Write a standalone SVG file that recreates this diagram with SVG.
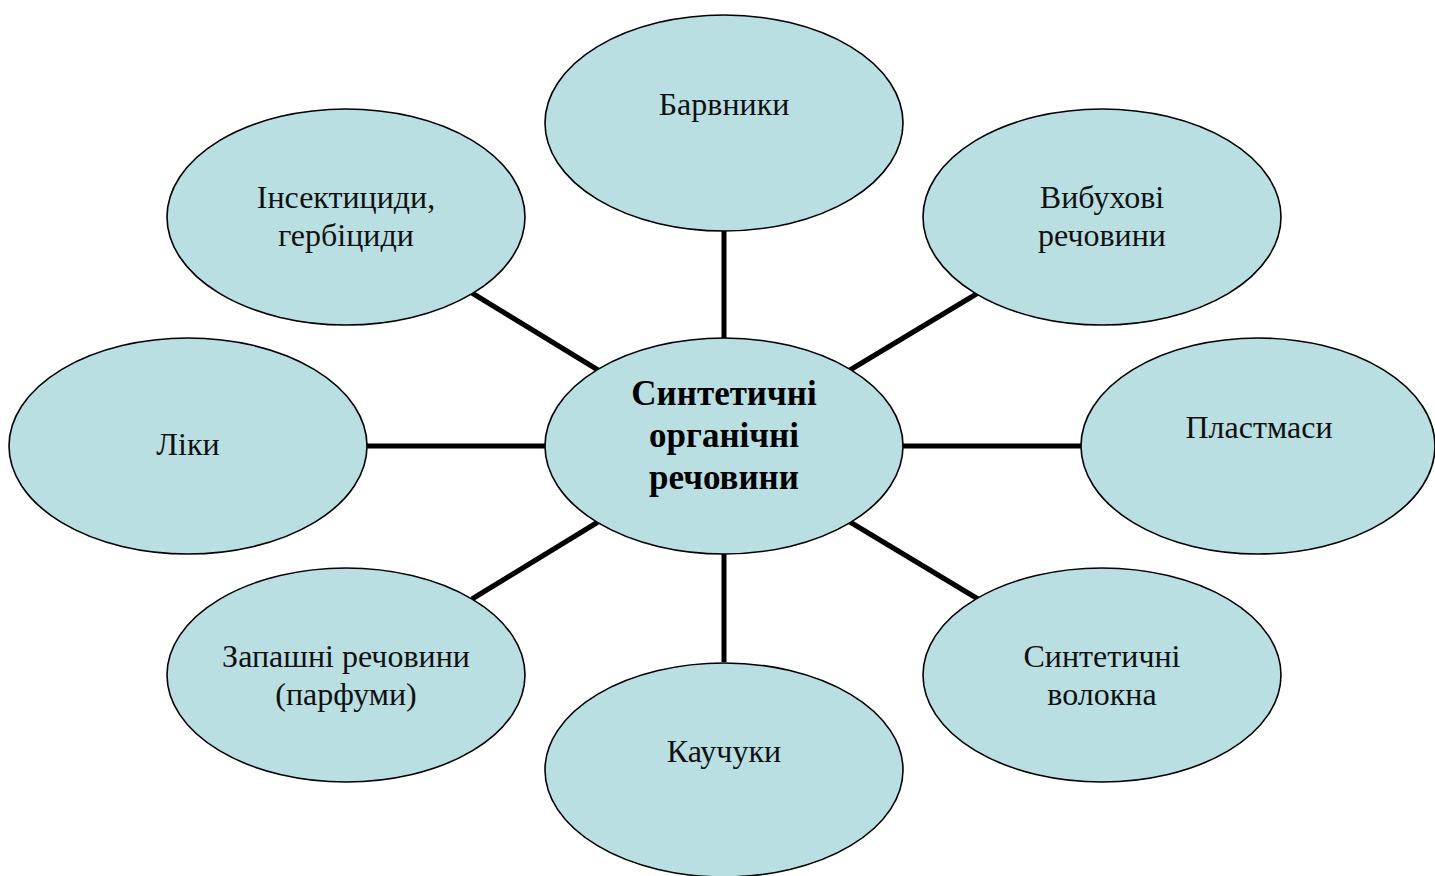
<svg xmlns="http://www.w3.org/2000/svg" width="1435" height="876" viewBox="0 0 1435 876">
<style>
.n{fill:#B9DFE3;stroke:#000;stroke-width:1.6}
.t{font-family:"Liberation Serif","Times New Roman",serif;font-size:32px;fill:#111;text-anchor:middle}
.b{font-family:"Liberation Serif","Times New Roman",serif;font-size:35px;font-weight:bold;fill:#000;text-anchor:middle}
.c{stroke:#000;stroke-width:5;fill:none}
</style>
<rect width="1435" height="876" fill="#fff"/>
<g id="connectors">
<line class="c" x1="724" y1="231" x2="724" y2="338"/>
<line class="c" x1="978" y1="293" x2="850" y2="370"/>
<line class="c" x1="902" y1="446" x2="1081" y2="446"/>
<line class="c" x1="850" y1="522" x2="978" y2="599"/>
<line class="c" x1="724" y1="554" x2="724" y2="662"/>
<line class="c" x1="598" y1="522" x2="472" y2="599"/>
<line class="c" x1="367" y1="446" x2="545" y2="446"/>
<line class="c" x1="472" y1="293" x2="598" y2="370"/>
</g>
<g id="center">
<ellipse class="n" cx="724" cy="446" rx="179" ry="108"/>
<text class="b" x="724" y="405">Синтетичні</text>
<text class="b" x="724" y="447">органічні</text>
<text class="b" x="724" y="489">речовини</text>
</g>
<g id="barvnyky">
<ellipse class="n" cx="724" cy="123" rx="179" ry="108"/>
<text class="t" x="724" y="115">Барвники</text>
</g>
<g id="vybukhovi">
<ellipse class="n" cx="1102" cy="217" rx="179" ry="108"/>
<text class="t" x="1102" y="208">Вибухові</text>
<text class="t" x="1102" y="246">речовини</text>
</g>
<g id="plastmasy">
<ellipse class="n" cx="1258" cy="446" rx="177" ry="108"/>
<text class="t" x="1259" y="438">Пластмаси</text>
</g>
<g id="volokna">
<ellipse class="n" cx="1102" cy="675" rx="179" ry="107"/>
<text class="t" x="1102" y="667">Синтетичні</text>
<text class="t" x="1102" y="705">волокна</text>
</g>
<g id="kauchuky">
<ellipse class="n" cx="724" cy="770" rx="179" ry="107"/>
<text class="t" x="724" y="762">Каучуки</text>
</g>
<g id="parfumy">
<ellipse class="n" cx="346" cy="675" rx="179" ry="107"/>
<text class="t" x="346" y="667">Запашні речовини</text>
<text class="t" x="346" y="705">(парфуми)</text>
</g>
<g id="liky">
<ellipse class="n" cx="188" cy="446" rx="179" ry="108"/>
<text class="t" x="188" y="455">Ліки</text>
</g>
<g id="insektytsydy">
<ellipse class="n" cx="346" cy="217" rx="179" ry="108"/>
<text class="t" x="346" y="208">Інсектициди,</text>
<text class="t" x="346" y="246">гербіциди</text>
</g>
</svg>
